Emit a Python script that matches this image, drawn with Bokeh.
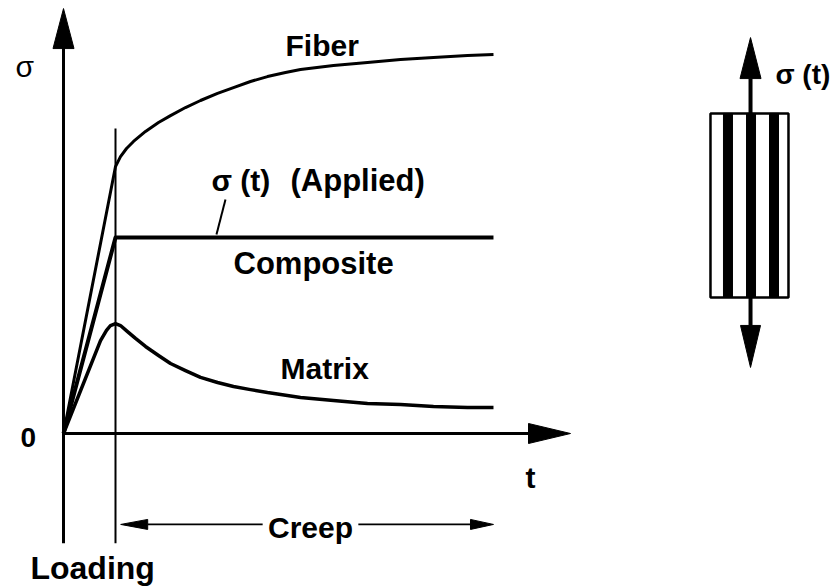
from bokeh.plotting import figure
from bokeh.models import Range1d
from bokeh.core.properties import value
from bokeh.embed import file_html
from bokeh.resources import INLINE

# ---------------- data (t in units of loading time, stress in units of applied stress) ----------------
fiber_t = [0.0, 1.0, 1.096, 1.212, 1.346, 1.577, 1.827, 2.058, 2.346, 2.635, 2.962, 3.269,
           3.596, 3.923, 4.269, 4.558, 5.192, 5.846, 6.481, 7.115, 7.769, 8.269]
fiber_s = [0.0, 1.362, 1.413, 1.454, 1.490, 1.541, 1.587, 1.622, 1.663, 1.699, 1.735, 1.765,
           1.796, 1.821, 1.842, 1.857, 1.878, 1.893, 1.908, 1.918, 1.929, 1.934]

composite_t = [0.0, 1.0, 8.269]
composite_s = [0.0, 1.0, 1.0]

matrix_t = [0.0, 0.712, 0.827, 0.904, 1.0, 1.096, 1.231, 1.385, 1.577, 1.827, 2.058, 2.346,
            2.635, 2.962, 3.269, 3.596, 3.923, 4.558, 5.192, 5.846, 6.481, 7.115, 7.769, 8.269]
matrix_s = [0.0, 0.474, 0.526, 0.551, 0.561, 0.551, 0.520, 0.485, 0.444, 0.398, 0.357, 0.321,
            0.286, 0.260, 0.240, 0.224, 0.209, 0.184, 0.168, 0.153, 0.148, 0.138, 0.133, 0.133]

t_loading = 1.0          # end of loading
t_creep_end = 8.269      # end of creep arrow
t_axis_end = 9.75        # tip of t-axis arrow
s_axis_top = 2.168       # tip of sigma-axis arrow
s_axis_bottom = -0.56
s_loading_top = 1.556
s_creep = -0.464
t_creep_start = 1.10
creep_gap = [3.83, 5.67]
leader_t = [3.115, 2.942]
leader_s = [1.194, 1.015]

# specimen sketch (same coordinate system)
spec_left, spec_right, spec_top, spec_bottom = 12.442, 13.942, 1.633, 0.694
stripe_left = [12.692, 13.135, 13.577]
stripe_right = [12.865, 13.308, 13.750]
spec_arrow_t = 13.212
spec_top_arrow = [1.633, 1.811, 2.020]      # shaft start, head base, tip
spec_bot_arrow = [0.694, 0.551, 0.337]

labels = ["σ", "Fiber", "σ (t)", "(Applied)", "Composite", "Matrix", "0", "t", "Creep", "Loading", "σ (t)"]
label_t = [-0.923, 4.269, 2.846, 4.365, 3.269, 4.173, -0.827, 8.885, 4.75, -0.635, 13.69]
label_s = [1.872, 1.980, 1.291, 1.291, 0.867, 0.332, -0.020, -0.225, -0.480, -0.684, 1.832]
label_size = ["30px", "30px", "30px", "31px", "31px", "30px", "28px", "30px", "30px", "32px", "28px"]
label_style = ["normal", "bold", "bold", "bold", "bold", "bold", "bold", "bold", "bold", "bold", "bold"]
label_align = ["left", "left", "left", "left", "left", "left", "left", "left", "center", "left", "left"]

# ---------------- scale (pixels per data unit) ----------------
PX_T = 52.0
PX_S = 196.0
W, H = 837, 586
T0 = -63.0 / PX_T
S0 = -153.0 / PX_S

p = figure(width=W, height=H, output_backend="svg", toolbar_location=None,
           x_range=Range1d(T0, T0 + W / PX_T), y_range=Range1d(S0, S0 + H / PX_S),
           x_axis_type=None, y_axis_type=None, min_border=0,
           background_fill_color="white", border_fill_color="white")
p.outline_line_color = None
p.grid.visible = False


def head(tip_t, tip_s, dt, ds, length, half):
    """arrow head polygon; (dt, ds) is unit direction in screen space, sizes in px"""
    bt = tip_t - dt * length / PX_T
    bs = tip_s - ds * length / PX_S
    nt, ns = -ds, dt
    xs = [tip_t, bt + nt * half / PX_T, bt - nt * half / PX_T]
    ys = [tip_s, bs + ns * half / PX_S, bs - ns * half / PX_S]
    return xs, ys


# axes
p.line([0, 0], [s_axis_bottom, s_axis_top - 30 / PX_S], line_color="black", line_width=3)
p.line([0, t_axis_end - 30 / PX_T], [0, 0], line_color="black", line_width=3)
hx1, hy1 = head(0, s_axis_top, 0, 1, 40, 10.5)
hx2, hy2 = head(t_axis_end, 0, 1, 0, 42, 10)
p.patches([hx1, hx2], [hy1, hy2], fill_color="black", line_color="black", line_width=1)

# loading line
p.line([t_loading, t_loading], [s_axis_bottom, s_loading_top], line_color="black", line_width=2)

# curves
p.line(fiber_t, fiber_s, line_color="black", line_width=3, line_join="round")
p.line(composite_t, composite_s, line_color="black", line_width=4, line_join="round")
p.line(matrix_t, matrix_s, line_color="black", line_width=3.5, line_join="round")
p.line(leader_t, leader_s, line_color="black", line_width=2)

# creep arrows
p.line([t_creep_start + 27 / PX_T, creep_gap[0]], [s_creep, s_creep], line_color="black", line_width=1.8)
p.line([creep_gap[1], t_creep_end - 23 / PX_T], [s_creep, s_creep], line_color="black", line_width=1.8)
cx1, cy1 = head(t_creep_start, s_creep, -1, 0, 27, 5)
cx2, cy2 = head(t_creep_end, s_creep, 1, 0, 23, 5)
p.patches([cx1, cx2], [cy1, cy2], fill_color="black", line_color="black", line_width=1)

# specimen
p.quad(left=[spec_left], right=[spec_right], top=[spec_top], bottom=[spec_bottom],
       fill_color="white", line_color="black", line_width=2.5)
p.quad(left=stripe_left, right=stripe_right, top=[spec_top] * 3, bottom=[spec_bottom] * 3,
       fill_color="black", line_color="black", line_width=1)
p.line([spec_arrow_t] * 2, spec_top_arrow[:2], line_color="black", line_width=4)
p.line([spec_arrow_t] * 2, spec_bot_arrow[:2], line_color="black", line_width=4)
ax1, ay1 = head(spec_arrow_t, spec_top_arrow[2], 0, 1, 41, 10.5)
ax2, ay2 = head(spec_arrow_t, spec_bot_arrow[2], 0, -1, 42, 10)
p.patches([ax1, ax2], [ay1, ay2], fill_color="black", line_color="black", line_width=1)

# texts
for txt, tx, sy, fs, st, al in zip(labels, label_t, label_s, label_size, label_style, label_align):
    p.text(x=[tx], y=[sy], text=[txt], text_font=value("Liberation Sans"),
           text_font_size=fs, text_font_style=st, text_align=al,
           text_baseline="alphabetic", text_color="black")

open("out.html", "w").write(file_html(p, INLINE))
